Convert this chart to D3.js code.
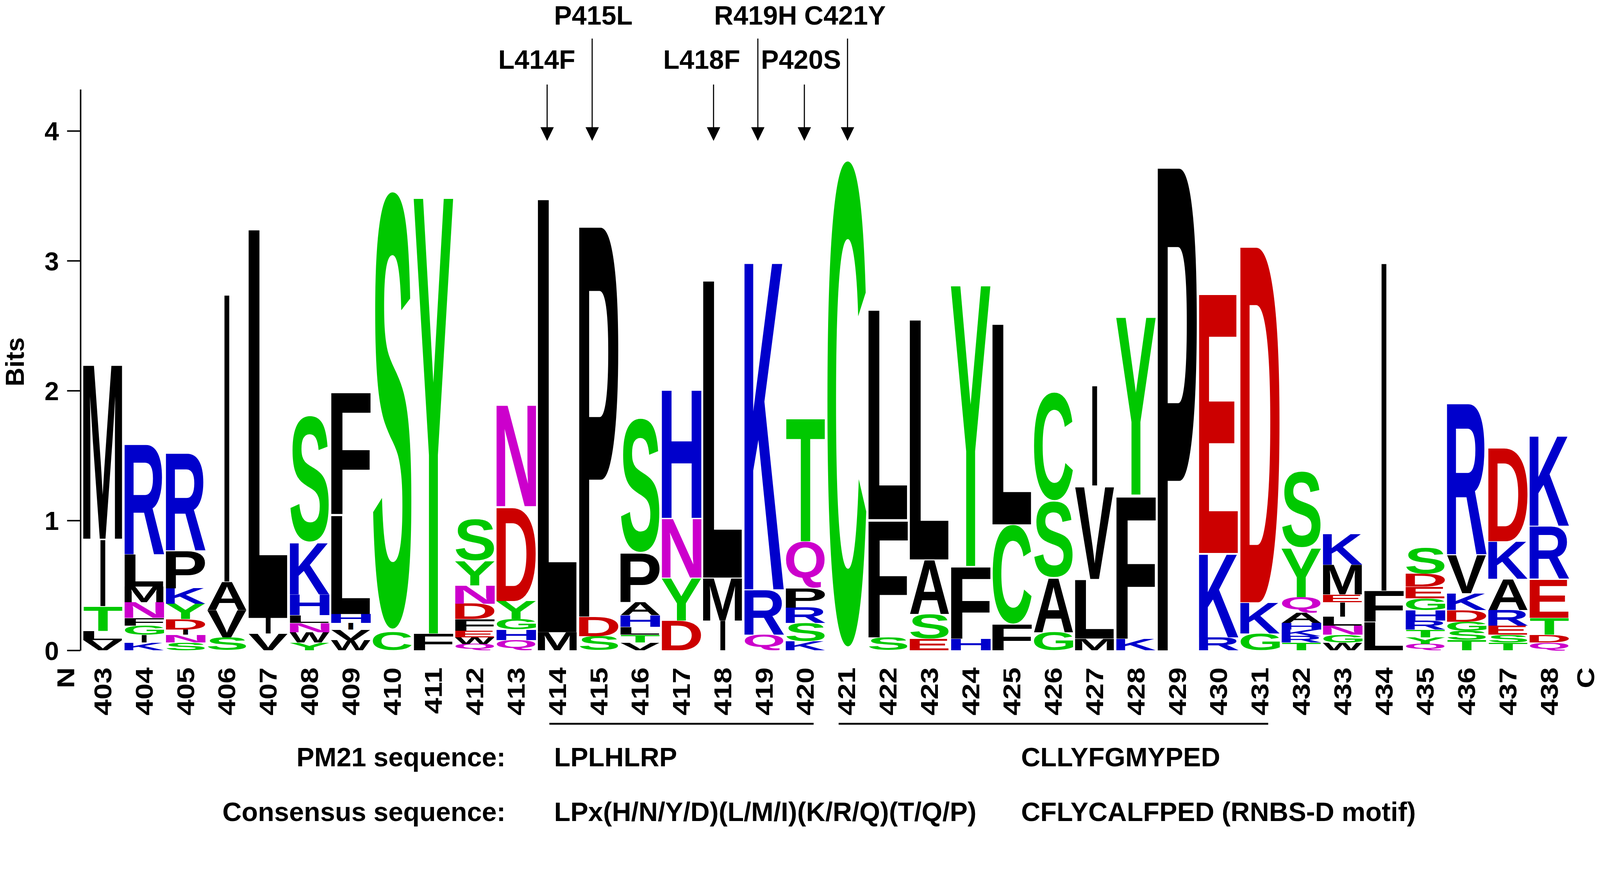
<!DOCTYPE html>
<html>
<head>
<meta charset="utf-8">
<script src="https://cdnjs.cloudflare.com/ajax/libs/d3/7.8.5/d3.min.js"></script>
<style>
  html, body { margin: 0; padding: 0; background: #fff; width: 100%; height: 100%; overflow: hidden; }
  svg { display: block; }
</style>
</head>
<body>
<svg id="chart"></svg>
<script>
// residue positions (x categories)
const positions = [403, 404, 405, 406, 407, 408, 409, 410, 411, 412, 413, 414,
  415, 416, 417, 418, 419, 420, 421, 422, 423, 424, 425, 426, 427, 428, 429,
  430, 431, 432, 433, 434, 435, 436, 437, 438];

// letters of each stack, bottom to top
const stackLetters = [
  "VLTIM", "KIGFNMLR", "SNIDYKPR", "SVAI", "VIL", "YWNLHKS", "WVIHLF",
  "CS", "FY", "QWEFDNYS", "QHGYDN", "ML", "SDP", "VTLHAPS", "DYNH", "IML",
  "QRK", "KSRPQT", "C", "SFL", "ESAL", "HFY", "FCL", "GASC", "MLVI", "KFY",
  "P", "RKE", "GKD", "TRKHAQYS", "WGNLIEMK", "LFI", "QYTRHGEDS", "TSGDKVR",
  "TSERAKD", "QDTERK"
];

// height of each letter in bits, same order as stackLetters
const stackBits = [
  [0.08, 0.07, 0.19, 0.52, 1.36],
  [0.06, 0.06, 0.07, 0.06, 0.12, 0.12, 0.25, 0.86],
  [0.06, 0.06, 0.04, 0.08, 0.12, 0.12, 0.29, 0.76],
  [0.10, 0.21, 0.22, 2.25],
  [0.13, 0.12, 3.05],
  [0.06, 0.08, 0.07, 0.06, 0.16, 0.40, 0.98],
  [0.08, 0.08, 0.05, 0.07, 0.77, 0.95],
  [0.14, 3.41],
  [0.13, 3.42],
  [0.05, 0.05, 0.05, 0.09, 0.12, 0.14, 0.19, 0.32],
  [0.08, 0.08, 0.08, 0.14, 0.73, 0.79],
  [0.14, 3.40],
  [0.11, 0.15, 3.06],
  [0.06, 0.06, 0.06, 0.09, 0.10, 0.38, 1.04],
  [0.23, 0.33, 0.46, 1.00],
  [0.23, 0.33, 2.33],
  [0.12, 0.35, 2.56],
  [0.07, 0.14, 0.12, 0.15, 0.36, 0.96],
  [3.79],
  [0.10, 0.91, 1.64],
  [0.09, 0.19, 0.42, 1.88],
  [0.09, 0.56, 2.20],
  [0.20, 0.77, 1.57],
  [0.14, 0.42, 0.59, 0.84],
  [0.09, 0.46, 0.72, 0.78],
  [0.09, 1.11, 1.39],
  [3.79],
  [0.10, 0.65, 2.03],
  [0.13, 0.24, 2.79],
  [0.06, 0.05, 0.05, 0.05, 0.08, 0.12, 0.38, 0.59],
  [0.06, 0.06, 0.07, 0.07, 0.11, 0.06, 0.23, 0.24],
  [0.22, 0.24, 2.57],
  [0.05, 0.05, 0.06, 0.07, 0.08, 0.09, 0.09, 0.10, 0.20],
  [0.08, 0.07, 0.07, 0.09, 0.13, 0.30, 1.18],
  [0.06, 0.06, 0.07, 0.12, 0.24, 0.29, 0.73],
  [0.06, 0.06, 0.13, 0.30, 0.41, 0.70]
];

const yTicks = [0, 1, 2, 3, 4];

// mutation annotations
const mutationLabels = ["L414F", "P415L", "L418F", "R419H", "P420S", "C421Y"];
const mutationPositions = [414, 415, 418, 419, 420, 421];
const mutationRows = [1, 0, 1, 0, 1, 0];

// sequence rows below the axis
const segmentStarts = [414, 421];
const segmentEnds = [420, 431];
const pm21Sequences = ["LPLHLRP", "CLLYFGMYPED"];
const consensusSequences = ["LPx(H/N/Y/D)(L/M/I)(K/R/Q)(T/Q/P)", "CFLYCALFPED (RNBS-D motif)"];

// ---- layout ----
const W = 4317, H = 2234;
const FONT = "'Liberation Sans', Arial, Helvetica, sans-serif";
const yMax = 4.32;
const bitPx = 350.25;
const y0px = 1754;

const colors = {
  G: "#00c800", S: "#00c800", T: "#00c800", Y: "#00c800", C: "#00c800",
  N: "#cc00cc", Q: "#cc00cc",
  K: "#0000cc", R: "#0000cc", H: "#0000cc",
  D: "#cc0000", E: "#cc0000"
};
const colorOf = ch => colors[ch] || "#000";

// scale the drawing to whatever the window really is
const svg = d3.select("#chart")
  .attr("viewBox", `0 0 ${W} ${H}`)
  .attr("preserveAspectRatio", "xMinYMin meet")
  .attr("width", "100%")
  .attr("height", "100%");
d3.select("body").style("height", "100vh");
svg.append("rect").attr("width", W).attr("height", H).attr("fill", "#fff");

const x = d3.scaleBand()
  .domain(positions)
  .range([222, 222 + positions.length * 111.5])
  .padding(0);

const y = d3.scaleLinear()
  .domain([0, yMax])
  .range([y0px, y0px - yMax * bitPx]);

const cx = p => x(p) + x.bandwidth() / 2;

// glyph ink measurement
const ctx = document.createElement("canvas").getContext("2d");
ctx.font = "bold 1000px " + FONT;
const inkCache = {};
function ink(ch) {
  if (!inkCache[ch]) {
    const m = ctx.measureText(ch);
    inkCache[ch] = {
      l: m.actualBoundingBoxLeft, r: m.actualBoundingBoxRight,
      a: m.actualBoundingBoxAscent, d: m.actualBoundingBoxDescent
    };
  }
  return inkCache[ch];
}

// ---- logo stacks ----
const logo = svg.append("g");
positions.forEach((p, i) => {
  let cum = 0;
  const letters = stackLetters[i].split("");
  letters.forEach((ch, j) => {
    const h = stackBits[i][j];
    const top = y(cum + h), bot = y(cum);
    cum += h;
    const hpx = bot - top;
    const w = ch === "I" ? 14 : x.bandwidth() - 4;
    const x0 = x(p) + (x.bandwidth() - w) / 2;
    const g = ink(ch);
    const sx = w / (g.l + g.r), sy = hpx / (g.a + g.d);
    logo.append("text")
      .attr("transform", `translate(${x0 + g.l * sx},${top + g.a * sy}) scale(${sx},${sy})`)
      .attr("font-family", FONT)
      .attr("font-weight", "bold")
      .attr("font-size", 1000)
      .attr("fill", colorOf(ch))
      .text(ch);
  });
});

// ---- y axis ----
const yAxis = svg.append("g")
  .attr("transform", "translate(217,0)")
  .call(d3.axisLeft(y).tickValues(yTicks).tickSize(36).tickSizeOuter(0).tickPadding(22)
    .tickFormat(d3.format("d")));
yAxis.select(".domain").attr("stroke-width", 4);
yAxis.selectAll(".tick line").attr("stroke-width", 4);
yAxis.selectAll(".tick text")
  .attr("font-family", FONT).attr("font-weight", "bold").attr("font-size", 70)
  .attr("dy", "0.36em");

svg.append("text")
  .attr("transform", "translate(64,976) rotate(-90)")
  .attr("text-anchor", "middle")
  .attr("font-family", FONT).attr("font-weight", "bold").attr("font-size", 70)
  .text("Bits");

// ---- x axis (rotated residue numbers) ----
const xAxis = svg.append("g")
  .attr("transform", "translate(0,1800)")
  .call(d3.axisBottom(x).tickSize(0).tickPadding(0));
xAxis.select(".domain").remove();
xAxis.selectAll(".tick text")
  .attr("y", 0).attr("dy", 0)
  .attr("transform", "rotate(-90) scale(1.18,1)")
  .attr("text-anchor", "end")
  .attr("dominant-baseline", "central")
  .attr("font-family", FONT).attr("font-weight", "bold").attr("font-size", 66);

[["N", cx(positions[0]) - 100], ["C", cx(positions[positions.length - 1]) + 98]].forEach(([t, tx]) => {
  svg.append("text")
    .attr("transform", `translate(${tx},1800) rotate(-90) scale(1.18,1)`)
    .attr("text-anchor", "end")
    .attr("dominant-baseline", "central")
    .attr("font-family", FONT).attr("font-weight", "bold").attr("font-size", 66)
    .text(t);
});

// ---- mutation arrows ----
const arrowDx = [-28, -18, -25, -17, -3, 2];
const labelDx = [-56, -15, -57, -23, -12, -5];
const rowBaseline = [66, 186];
const rowArrowTop = [104, 228];
const tipY = 380, headH = 37, headW = 36;
const ann = svg.append("g");
mutationLabels.forEach((lab, i) => {
  const p = mutationPositions[i], r = mutationRows[i];
  const ax = cx(p) + arrowDx[i];
  ann.append("line")
    .attr("x1", ax).attr("x2", ax)
    .attr("y1", rowArrowTop[r]).attr("y2", tipY - headH + 2)
    .attr("stroke", "#000").attr("stroke-width", 3);
  ann.append("path")
    .attr("d", `M${ax - headW / 2},${tipY - headH}L${ax + headW / 2},${tipY - headH}L${ax},${tipY}Z`)
    .attr("fill", "#000");
  ann.append("text")
    .attr("x", cx(p) + labelDx[i]).attr("y", rowBaseline[r])
    .attr("text-anchor", "middle")
    .attr("font-family", FONT).attr("font-weight", "bold").attr("font-size", 72)
    .text(lab);
});

// ---- sequence rows ----
segmentStarts.forEach((s, i) => {
  svg.append("line")
    .attr("x1", cx(s) - 22).attr("x2", cx(segmentEnds[i]) + 22)
    .attr("y1", 1952).attr("y2", 1952)
    .attr("stroke", "#000").attr("stroke-width", 5);
});

const textStarts = [1495, 2755];
const rowY = [2067, 2214];
[["PM21 sequence:", pm21Sequences], ["Consensus sequence:", consensusSequences]].forEach(([title, seqs], r) => {
  svg.append("text")
    .attr("x", 1364).attr("y", rowY[r])
    .attr("text-anchor", "end")
    .attr("font-family", FONT).attr("font-weight", "bold").attr("font-size", 72)
    .text(title);
  seqs.forEach((s, k) => {
    svg.append("text")
      .attr("x", textStarts[k]).attr("y", rowY[r])
      .attr("font-family", FONT).attr("font-weight", "bold").attr("font-size", 72)
      .text(s);
  });
});
</script>
</body>
</html>
